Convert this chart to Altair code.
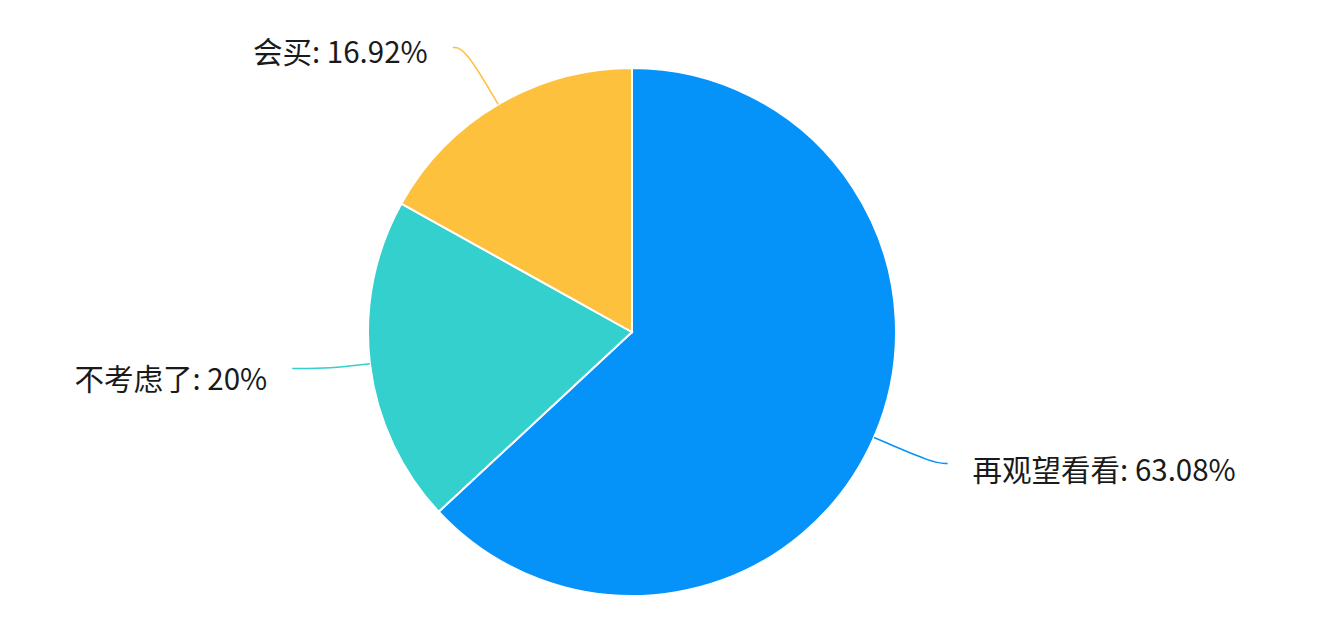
import math
import altair as alt
import pandas as pd

# data
categories = ["再观望看看", "不考虑了", "会买"]
values = [63.08, 20.0, 16.92]
labels = ["再观望看看: 63.08%", "不考虑了: 20%", "会买: 16.92%"]
colors = ["#0593fa", "#33d0cd", "#fec13e"]

# styling / layout
W, H = 1308, 620
CX, CY, R = 624, 324, 264
len1 = [65, 40, 66]
len2 = [14, 38, 12]
gap = 25
label_dy = [9, 12, 6]
FONT = "Noto Sans CJK SC"
FS = 29.5

total = sum(values)
df = pd.DataFrame({"cat": categories, "val": values, "order": range(len(values))})

line_rows, text_rows = [], []
cum = 0.0
for i, (c, v, lab) in enumerate(zip(categories, values, labels)):
    mid = (cum + v / 2) / total * 2 * math.pi
    cum += v
    dx, dy = math.sin(mid), -math.cos(mid)
    ex, ey = CX + R * dx, CY + R * dy
    mx, my = ex + len1[i] * dx, ey + len1[i] * dy
    side = 1 if dx >= 0 else -1
    tx, ty = mx + side * len2[i], my
    for k, (px, py) in enumerate([(ex, ey), (mx, my), (tx, ty)]):
        line_rows.append({"cat": c, "k": k, "px": px, "py": py})
    text_rows.append({"cat": c, "label": lab, "px": tx + side * gap, "py": ty + label_dy[i],
                      "align": "left" if side > 0 else "right"})

lines_df = pd.DataFrame(line_rows)
text_df = pd.DataFrame(text_rows)

color_scale = alt.Scale(domain=categories, range=colors)

pie = alt.Chart(df).mark_arc(outerRadius=R, stroke="white", strokeWidth=2).encode(
    theta=alt.Theta("val:Q", stack=True),
    order=alt.Order("order:Q"),
    color=alt.Color("cat:N", scale=color_scale, legend=None),
    x=alt.value(CX),
    y=alt.value(CY),
)

leader = alt.Chart(lines_df).mark_line(interpolate="basis", strokeWidth=1.5).encode(
    x=alt.X("px:Q", scale=None, axis=None),
    y=alt.Y("py:Q", scale=None, axis=None),
    detail="cat:N",
    order="k:Q",
    color=alt.Color("cat:N", scale=color_scale, legend=None),
)

text_left = alt.Chart(text_df[text_df["align"] == "left"]).mark_text(
    align="left", baseline="middle", font=FONT, fontSize=FS, color="#1a1a1a"
).encode(x=alt.X("px:Q", scale=None, axis=None), y=alt.Y("py:Q", scale=None, axis=None), text="label:N")

text_right = alt.Chart(text_df[text_df["align"] == "right"]).mark_text(
    align="right", baseline="middle", font=FONT, fontSize=FS, color="#1a1a1a"
).encode(x=alt.X("px:Q", scale=None, axis=None), y=alt.Y("py:Q", scale=None, axis=None), text="label:N")

chart = alt.layer(pie, leader, text_left, text_right).properties(
    width=W, height=H, autosize=alt.AutoSizeParams(type="none"), padding=0, background="white"
).configure_view(stroke=None)

chart.save("out.html", embed_options={"renderer": "svg", "actions": False})
